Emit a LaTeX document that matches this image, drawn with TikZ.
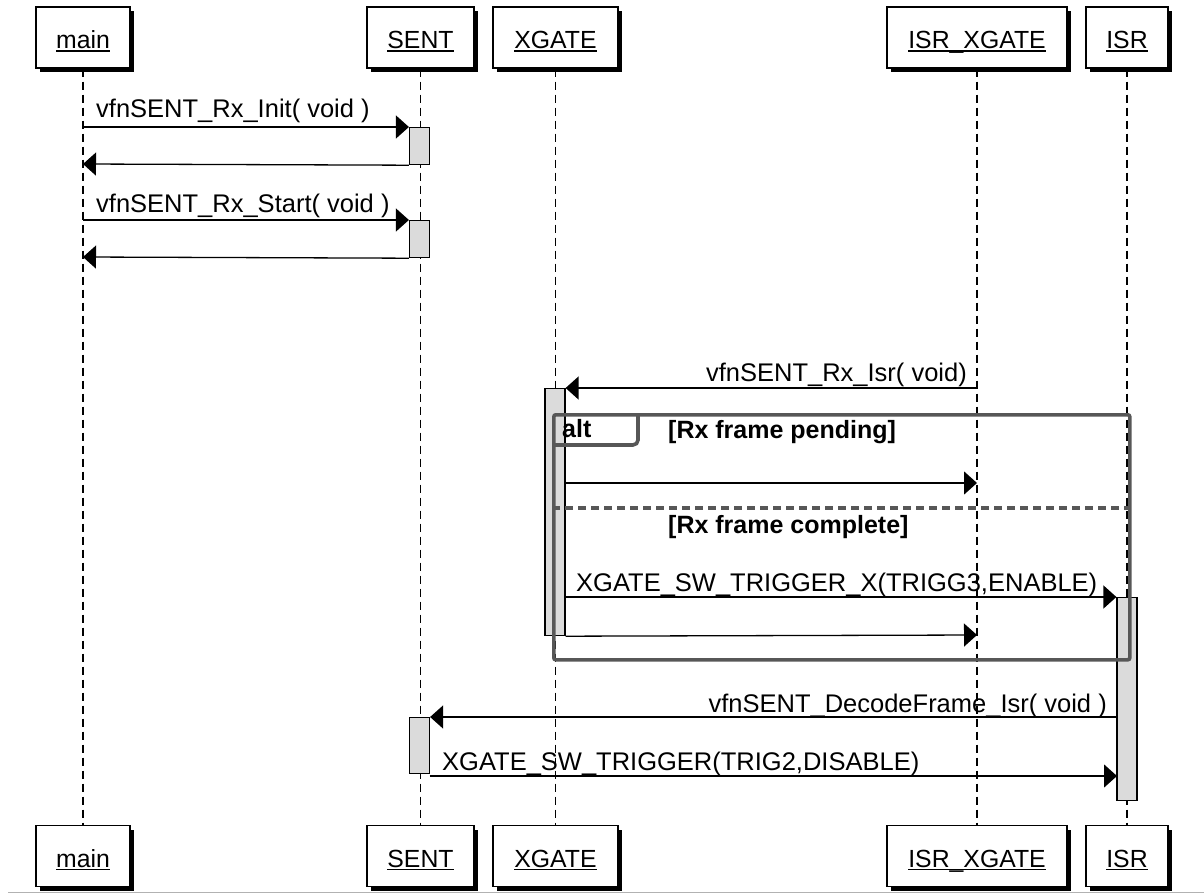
\documentclass[tikz,border=0pt]{standalone}
\usepackage{fontspec}
\setmainfont{Liberation Sans}
\usetikzlibrary{arrows.meta,shadows}
\newsavebox\hdbox
\newcommand\hd[1]{\sbox\hdbox{#1}\rlap{\usebox\hdbox}\rule[-2.8pt]{\wd\hdbox}{1.4pt}}
\begin{document}
\begin{tikzpicture}[x=1pt,y=-1pt,
  every node/.style={font=\fontsize{25.5}{30}\selectfont},
  hdr/.style={draw=black, line width=1.3pt, fill=white, minimum height=61pt, inner sep=0pt,
    text height=31pt, text depth=8pt, font=\fontsize{24.8}{29}\selectfont,
    drop shadow={shadow xshift=4pt, shadow yshift=-4pt, fill=black, opacity=1}},
  life/.style={line width=1.3pt, dash pattern=on 8pt off 5pt},
  actbar/.style={draw=black, fill=black!14, line width=1.2pt, minimum width=20pt, inner sep=0pt, anchor=north},
  msg/.style={line width=1.3pt, -{Triangle[length=13pt,width=23pt]}},
  lblL/.style={inner sep=0pt, anchor=base west},
  lblR/.style={inner sep=0pt, anchor=base east},
  frm/.style={draw=black!66, line width=3.6pt},
  guard/.style={inner sep=0pt, anchor=base west, font=\fontsize{25}{30}\selectfont\bfseries},
]
\useasboundingbox (0,0) rectangle (1204,893);

% header boxes
\node[hdr, minimum width=94pt]  (mainT) at (83,37.5)   {\hd{main}};
\node[hdr, minimum width=107pt] (sentT) at (420.5,37.5) {\hd{SENT}};
\node[hdr, minimum width=125pt] (xgT)   at (555.5,37.5) {\hd{XGATE}};
\node[hdr, minimum width=180pt] (isxT)  at (977,37.5)  {\hd{ISR\_XGATE}};
\node[hdr, minimum width=82pt]  (isrT)  at (1127,37.5) {\hd{ISR}};

\node[hdr, minimum width=94pt]  (mainB) at (83,856)   {\hd{main}};
\node[hdr, minimum width=107pt] (sentB) at (420.5,856) {\hd{SENT}};
\node[hdr, minimum width=125pt] (xgB)   at (555.5,856) {\hd{XGATE}};
\node[hdr, minimum width=180pt] (isxB)  at (977,856)  {\hd{ISR\_XGATE}};
\node[hdr, minimum width=82pt]  (isrB)  at (1127,856) {\hd{ISR}};

% lifelines
\draw[life] (mainT.south) -- (mainB.north);
\draw[life] (sentT.south) -- (sentB.north);
\draw[life] (xgT.south) -- (xgB.north);
\draw[life] (isxT.south) -- (isxB.north);
\draw[life] (isrT.south) -- (isrB.north);

% activation bars
\node[actbar, minimum height=37pt]  (a1) at (419.5,127) {};
\node[actbar, minimum height=37pt]  (a2) at (419.5,220) {};
\node[actbar, minimum height=247pt] (a3) at (555,388) {};
\node[actbar, minimum height=203pt] (a4) at (1127,597) {};
\node[actbar, minimum height=56pt]  (a5) at (419.5,717) {};

% alt frame
\node[frm, rounded corners=2pt, minimum width=576pt, minimum height=245pt, inner sep=0pt, anchor=north west] (alt) at (552,413) {};
\draw[frm, rounded corners=5pt] (alt.north west |- 0,445) -- (638,445) -- (638,413);
\coordinate (sepL) at (552,508);
\coordinate (sepR) at (1128,508);
\draw[frm, dash pattern=on 8pt off 5pt] (sepL) -- (sepR);
\node[guard] (altlbl) at (562,437) {alt};
\node[guard] (g1) at (668,438) {[Rx frame pending]};
\node[guard] (g2) at (668,533) {[Rx frame complete]};

% coordinates on lifelines
\coordinate (m1s) at (83,127);
\coordinate (m2e) at (83,164);
\coordinate (m3s) at (83,220);
\coordinate (m4e) at (83,257);
\coordinate (m5s) at (977,388);
\coordinate (m6s) at (565,483);
\coordinate (m6e) at (977,483);
\coordinate (m7s) at (565,597);
\coordinate (m8e) at (977,635);
\coordinate (m9s) at (1117,717);
\coordinate (m10s) at (429.5,776);
\coordinate (m10e) at (1117,776);

% messages
\draw[msg] (m1s) -- (a1.north west);
\node[lblL] (l1) at (96,118) {vfnSENT\_Rx\_Init( void )};
\draw[msg] (a1.south west) -- (m2e);
\draw[msg] (m3s) -- (a2.north west);
\node[lblL] (l3) at (96,213) {vfnSENT\_Rx\_Start( void )};
\draw[msg] (a2.south west) -- (m4e);

\draw[msg] (m5s) -- (a3.north east);
\node[lblR] (l5) at (967,381) {vfnSENT\_Rx\_Isr( void)};
\draw[msg] (m6s) -- (m6e);
\draw[msg] (m7s) -- (a4.north west);
\node[lblL] (l7) at (576,591) {XGATE\_SW\_TRIGGER\_X(TRIGG3,ENABLE)};
\draw[msg] (a3.south east) -- (m8e);

\draw[msg] (m9s) -- (a5.north east);
\node[lblR] (l9) at (1107,712) {vfnSENT\_DecodeFrame\_Isr( void )};
\draw[msg] (m10s) -- (m10e);
\node[lblL] (l10) at (442,770) {XGATE\_SW\_TRIGGER(TRIG2,DISABLE)};

% bottom edge line
\coordinate (bl) at (8,892);
\coordinate (br) at (1204,892);
\draw[black!30, line width=1pt] (bl) -- (br);
\end{tikzpicture}
\end{document}
